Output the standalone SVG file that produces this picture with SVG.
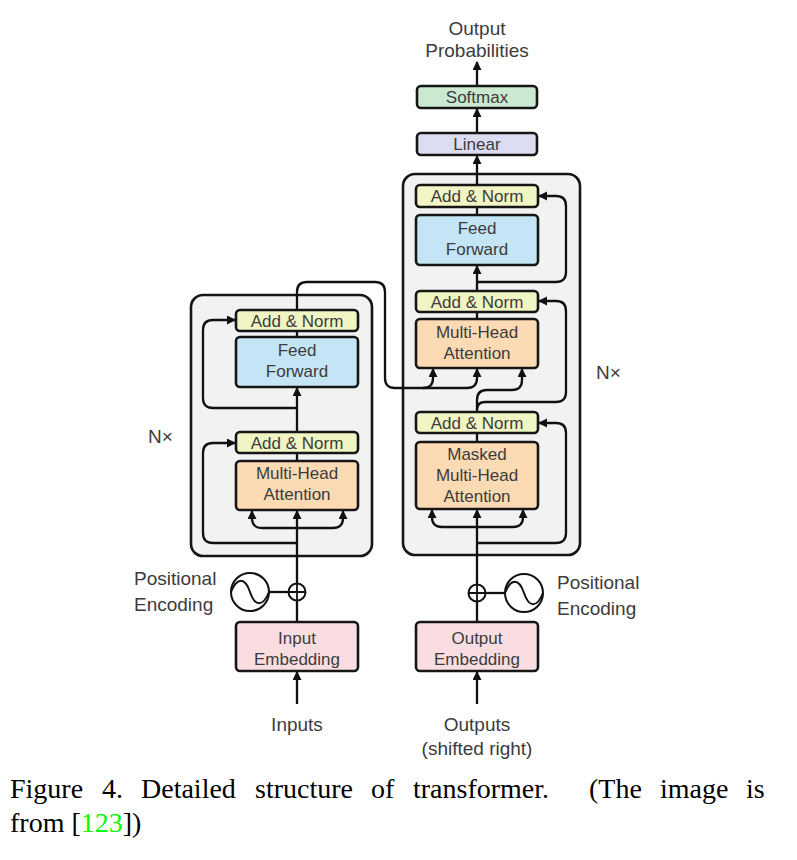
<svg xmlns="http://www.w3.org/2000/svg" width="797" height="860" viewBox="0 0 797 860">
<style>
.box{stroke:#161616;stroke-width:2.6}
.outer{fill:#f2f2f2;stroke:#161616;stroke-width:2.6}
.an{fill:#f1f4c3}
.ff{fill:#c4e5f5}
.mha{fill:#fcdab3}
.emb{fill:#fadde1}
.sm{fill:#cbe8d0}
.lin{fill:#dcddf2}
.t{font-family:"Liberation Sans",Arial,sans-serif;font-size:17px;fill:#3c3c3c;text-anchor:middle}
.lbl{font-family:"Liberation Sans",Arial,sans-serif;font-size:19px;fill:#3c3c3c}
.c{text-anchor:middle}
.ln{fill:none;stroke:#111;stroke-width:2.3}
.ar{fill:none;stroke:#111;stroke-width:2.3;marker-end:url(#arr)}
.cap{font-family:"Liberation Serif","Times New Roman",serif;font-size:28px;fill:#000}
</style>
<defs>
<marker id="arr" markerUnits="userSpaceOnUse" markerWidth="10" markerHeight="10" refX="8" refY="4.5" orient="auto">
<path d="M0,0 L9,4.5 L0,9 Z" fill="#111"/>
</marker>
</defs>
<rect width="797" height="860" fill="#fff"/>

<g id="encoder-stack">
<rect class="outer" x="191" y="295" width="181" height="261" rx="12"/>
</g>
<g id="decoder-stack">
<rect class="outer" x="403" y="174" width="177" height="381" rx="12"/>
</g>

<g id="connectors">
<!-- encoder -->
<path class="ar" d="M297,704 V672"/>
<path class="ln" d="M297,622 V601"/>
<path class="ar" d="M297,583.5 V511"/>
<path class="ar" d="M297,528 H262 Q252,528 252,518 V511"/>
<path class="ar" d="M297,528 H333 Q343,528 343,518 V511"/>
<path class="ar" d="M297,543 H213 Q203,543 203,533 V453 Q203,443 213,443 H235"/>
<path class="ln" d="M297,461 V453"/>
<path class="ar" d="M297,432 V388"/>
<path class="ar" d="M297,408 H213 Q203,408 203,398 V330 Q203,320 213,320 H235"/>
<path class="ln" d="M297,337 V331"/>
<path class="ar" d="M297,310 V292 Q297,282 307,282 H375 Q385,282 385,292 V378 Q385,388 395,388 H423 Q433,388 433,378 V369"/>
<path class="ar" d="M423,388 H467 Q477,388 477,378 V369"/>
<path class="ln" d="M269,592 H288.5"/>
<!-- decoder -->
<path class="ar" d="M477,704 V672"/>
<path class="ln" d="M477,622 V601.5"/>
<path class="ar" d="M477,584.5 V510"/>
<path class="ar" d="M477,527 H442 Q432,527 432,517 V510"/>
<path class="ar" d="M477,527 H513 Q523,527 523,517 V510"/>
<path class="ar" d="M477,543 H556 Q566,543 566,533 V433 Q566,423 556,423 H539"/>
<path class="ln" d="M477,442 V433"/>
<path class="ar" d="M477,412 V400 Q477,390 487,390 H512 Q522,390 522,380 V369"/>
<path class="ar" d="M477,410 Q477,402 485,402 H556 Q566,402 566,392 V311 Q566,301 556,301 H539"/>
<path class="ln" d="M477,319 V312"/>
<path class="ar" d="M477,291 V266"/>
<path class="ar" d="M477,282 H556 Q566,282 566,272 V206 Q566,196 556,196 H539"/>
<path class="ln" d="M477,215 V207"/>
<path class="ar" d="M477,185 V156"/>
<path class="ar" d="M477,133 V109"/>
<path class="ar" d="M477,86 V62"/>
<path class="ln" d="M485.5,593 H505"/>
</g>

<g id="enc-addnorm2"><rect class="box an" x="236" y="310" width="122" height="21" rx="4"/><text class="t" x="297" y="326.5">Add &amp; Norm</text></g>
<g id="enc-ff"><rect class="box ff" x="236" y="337" width="122" height="50" rx="4"/><text class="t" x="297" y="356">Feed</text><text class="t" x="297" y="377">Forward</text></g>
<g id="enc-addnorm1"><rect class="box an" x="236" y="432" width="122" height="21" rx="4"/><text class="t" x="297" y="448.5">Add &amp; Norm</text></g>
<g id="enc-mha"><rect class="box mha" x="236" y="461" width="122" height="49" rx="4"/><text class="t" x="297" y="479">Multi-Head</text><text class="t" x="297" y="500">Attention</text></g>
<g id="input-embedding"><rect class="box emb" x="236" y="622" width="122" height="49" rx="4"/><text class="t" x="297" y="644">Input</text><text class="t" x="297" y="665">Embedding</text></g>

<g id="dec-addnorm3"><rect class="box an" x="416" y="185" width="122" height="22" rx="4"/><text class="t" x="477" y="202">Add &amp; Norm</text></g>
<g id="dec-ff"><rect class="box ff" x="416" y="215" width="122" height="50" rx="4"/><text class="t" x="477" y="234">Feed</text><text class="t" x="477" y="255">Forward</text></g>
<g id="dec-addnorm2"><rect class="box an" x="416" y="291" width="122" height="21" rx="4"/><text class="t" x="477" y="307.5">Add &amp; Norm</text></g>
<g id="dec-mha"><rect class="box mha" x="416" y="319" width="122" height="49" rx="4"/><text class="t" x="477" y="338">Multi-Head</text><text class="t" x="477" y="359">Attention</text></g>
<g id="dec-addnorm1"><rect class="box an" x="416" y="412" width="122" height="21" rx="4"/><text class="t" x="477" y="428.5">Add &amp; Norm</text></g>
<g id="dec-masked-mha"><rect class="box mha" x="416" y="442" width="122" height="67" rx="4"/><text class="t" x="477" y="460">Masked</text><text class="t" x="477" y="481">Multi-Head</text><text class="t" x="477" y="502">Attention</text></g>
<g id="output-embedding"><rect class="box emb" x="416" y="622" width="122" height="49" rx="4"/><text class="t" x="477" y="644">Output</text><text class="t" x="477" y="665">Embedding</text></g>
<g id="linear"><rect class="box lin" x="417" y="133" width="120" height="22" rx="4"/><text class="t" x="477" y="150">Linear</text></g>
<g id="softmax"><rect class="box sm" x="417" y="86" width="120" height="22" rx="4"/><text class="t" x="477" y="103">Softmax</text></g>

<g id="enc-posenc">
<circle cx="250" cy="592" r="19" fill="#fff" stroke="#111" stroke-width="2"/>
<path d="M231,592 C237,577 245,577 250,592 C255,607 263,607 269,592" fill="none" stroke="#111" stroke-width="2"/>
<circle cx="297" cy="592" r="8.5" fill="#fff" stroke="#111" stroke-width="2"/>
<path d="M288.5,592 H305.5 M297,583.5 V600.5" stroke="#111" stroke-width="1.8"/>
<text class="lbl" x="134" y="585">Positional</text>
<text class="lbl" x="134" y="611">Encoding</text>
</g>
<g id="dec-posenc">
<circle cx="477" cy="593" r="8.5" fill="#fff" stroke="#111" stroke-width="2"/>
<path d="M468.5,593 H485.5 M477,584.5 V601.5" stroke="#111" stroke-width="1.8"/>
<circle cx="524" cy="593" r="19" fill="#fff" stroke="#111" stroke-width="2"/>
<path d="M505,593 C511,578 519,578 524,593 C529,608 537,608 543,593" fill="none" stroke="#111" stroke-width="2"/>
<text class="lbl" x="557" y="588.5">Positional</text>
<text class="lbl" x="557" y="614.5">Encoding</text>
</g>

<g id="labels">
<text class="lbl c" x="477" y="35">Output</text>
<text class="lbl c" x="477" y="57">Probabilities</text>
<text class="lbl" x="148" y="443">N×</text>
<text class="lbl" x="596" y="379">N×</text>
<text class="lbl c" x="297" y="731">Inputs</text>
<text class="lbl c" x="477" y="731">Outputs</text>
<text class="lbl c" x="477" y="755">(shifted right)</text>
</g>

<g id="caption">
<text class="cap" y="798"><tspan x="10">Figure</tspan><tspan x="102">4.</tspan><tspan x="141">Detailed</tspan><tspan x="255">structure</tspan><tspan x="371">of</tspan><tspan x="413">transformer.</tspan><tspan x="589">(The</tspan><tspan x="660">image</tspan><tspan x="746">is</tspan></text>
<text class="cap" x="10" y="832">from [<tspan fill="#00ff00">123</tspan>])</text>
</g>
</svg>
